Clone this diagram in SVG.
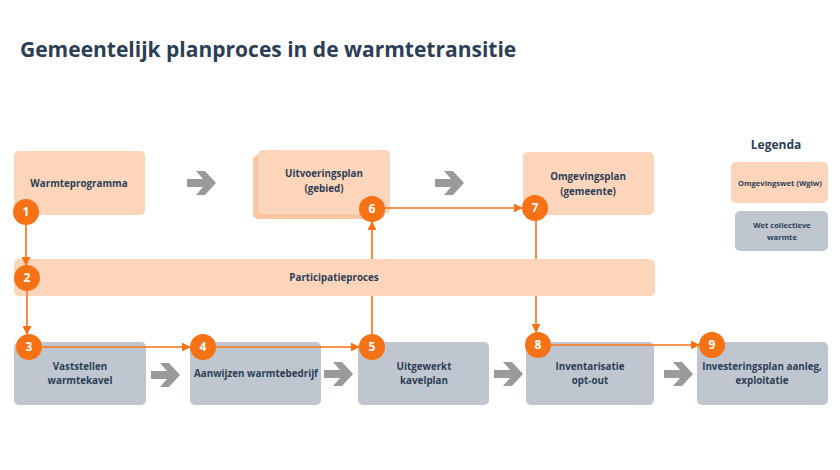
<svg xmlns="http://www.w3.org/2000/svg" width="840" height="470" viewBox="0 0 840 470">
<defs>
<style>
.o{fill:#fdd5bb}.g{fill:#c0c6d0}
text{font-family:"Open Sans","Noto Sans",sans-serif;font-weight:bold;fill:#2c3e55;text-anchor:middle}
.t{font-size:9.8px}.s{font-size:7.6px}
.c circle{fill:#f77214}.c text{fill:#fff;font-size:12px}
.ln{stroke:#f77214;stroke-width:1.6;fill:none}
.ga{fill:#9a9a9a}
</style>
<marker id="ah" viewBox="0 0 10 10" refX="9" refY="5" markerWidth="5.5" markerHeight="5.5" orient="auto"><path d="M0,0L10,5L0,10z" fill="#f77214"/></marker>
<path id="ga" d="M-16,-4h16l-7,-8h9l11,12l-11,12h-9l7,-8h-16z"/>
</defs>
<rect width="840" height="470" fill="#fff"/>
<text x="20" y="57" style="font-size:21px;text-anchor:start">Gemeentelijk planproces in de warmtetransitie</text>
<g id="n-warmteprogramma"><rect class="o" x="14" y="151" width="131" height="64" rx="5"/><text class="t" x="79" y="187">Warmteprogramma</text></g>
<g id="n-uitvoeringsplan"><rect class="o" x="253" y="155" width="132" height="64" rx="5" style="fill:#fbc4a3"/><rect class="o" x="258" y="150" width="132" height="64" rx="5"/><text class="t" x="324" y="177">Uitvoeringsplan</text><text class="t" x="324" y="192">(gebied)</text></g>
<g id="n-omgevingsplan"><rect class="o" x="523" y="152" width="131" height="63" rx="5"/><text class="t" x="588" y="180">Omgevingsplan</text><text class="t" x="588" y="195">(gemeente)</text></g>
<g id="n-participatie"><rect class="o" x="14" y="259" width="641" height="37" rx="5"/><text class="t" x="334" y="281">Participatieproces</text></g>
<g id="n-vaststellen"><rect class="g" x="14" y="342" width="132" height="63" rx="5"/><text class="t" x="80" y="370">Vaststellen</text><text class="t" x="80" y="384">warmtekavel</text></g>
<g id="n-aanwijzen"><rect class="g" x="190" y="342" width="131" height="63" rx="5"/><text class="t" x="256" y="377">Aanwijzen warmtebedrijf</text></g>
<g id="n-uitgewerkt"><rect class="g" x="358" y="342" width="131" height="63" rx="5"/><text class="t" x="424" y="370">Uitgewerkt</text><text class="t" x="424" y="384">kavelplan</text></g>
<g id="n-inventarisatie"><rect class="g" x="526" y="342" width="128" height="63" rx="5"/><text class="t" x="590" y="370">Inventarisatie</text><text class="t" x="590" y="384">opt-out</text></g>
<g id="n-investeringsplan"><rect class="g" x="697" y="342" width="131" height="63" rx="5"/><text class="t" x="762" y="370">Investeringsplan aanleg,</text><text class="t" x="762" y="384">exploitatie</text></g>
<g id="legend"><text x="776" y="149" style="font-size:12px">Legenda</text>
<rect class="o" x="731" y="162" width="97" height="41" rx="5"/><text class="s" x="780" y="186">Omgevingswet (Wgiw)</text>
<rect class="g" x="735" y="211" width="93" height="40" rx="5"/><text class="s" x="782" y="228">Wet collectieve</text><text class="s" x="782" y="240">warmte</text></g>
<g id="grey-arrows" class="ga">
<use href="#ga" x="203" y="183"/><use href="#ga" x="451" y="183"/><use href="#ga" x="167" y="375"/><use href="#ga" x="340" y="374"/><use href="#ga" x="510" y="374"/><use href="#ga" x="680" y="374"/>
</g>
<g id="connectors" class="ln">
<path d="M26,225V265" marker-end="url(#ah)"/>
<path d="M27,291V334" marker-end="url(#ah)"/>
<path d="M42,347H190" marker-end="url(#ah)"/>
<path d="M216,347H359" marker-end="url(#ah)"/>
<path d="M372,334V296M372,259V222" marker-end="url(#ah)"/>
<path d="M385,208H522" marker-end="url(#ah)"/>
<path d="M536,221V259M536,296V332" marker-end="url(#ah)"/>
<path d="M551,345H699" marker-end="url(#ah)"/>
</g>
<g class="c">
<g id="c1"><circle cx="26" cy="212" r="13"/><text x="26" y="216">1</text></g>
<g id="c2"><circle cx="27" cy="278" r="13"/><text x="27" y="282">2</text></g>
<g id="c3"><circle cx="29" cy="347" r="13"/><text x="29" y="351">3</text></g>
<g id="c4"><circle cx="203" cy="347" r="13"/><text x="203" y="351">4</text></g>
<g id="c5"><circle cx="372" cy="347" r="13"/><text x="372" y="351">5</text></g>
<g id="c6"><circle cx="372" cy="209" r="13"/><text x="372" y="213">6</text></g>
<g id="c7"><circle cx="535" cy="208" r="13"/><text x="535" y="212">7</text></g>
<g id="c8"><circle cx="538" cy="345" r="13"/><text x="538" y="349">8</text></g>
<g id="c9"><circle cx="712" cy="345" r="13"/><text x="712" y="349">9</text></g>
</g>
</svg>
